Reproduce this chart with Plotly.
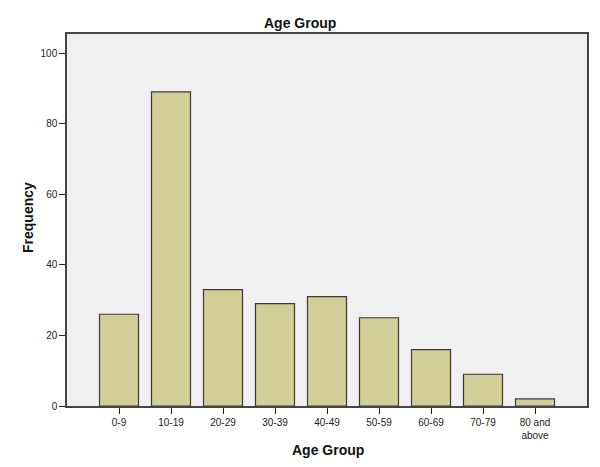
import plotly.graph_objects as go

age_groups = ["0-9", "10-19", "20-29", "30-39", "40-49", "50-59", "60-69", "70-79", "80 and<br>above"]
frequency = [26, 89, 33, 29, 31, 25, 16, 9, 2]
y_ticks = [0, 20, 40, 60, 80, 100]

fig = go.Figure()
fig.add_trace(go.Bar(
    x=age_groups, y=frequency, width=0.75,
    marker=dict(color="#d3ce97", line=dict(color="#3a3a3a", width=1.2)),
))

# page body adds ~8px offset, margins compensate for it
fig.update_layout(
    width=600, height=467,
    margin=dict(l=59, r=21, t=26, b=69, autoexpand=False),
    paper_bgcolor="white", plot_bgcolor="#f0f0f0",
    font=dict(family="Liberation Sans, Arial", color="#222"),
    showlegend=False,
    bargap=0.25,
)
# titles placed by hand, SPSS style
fig.add_annotation(text="<b>Age Group</b>", xref="paper", yref="paper", x=0.448, y=1.0,
                   xanchor="center", yanchor="middle", yshift=11, showarrow=False,
                   font=dict(size=14, color="#111"))
fig.add_annotation(text="<b>Age Group</b>", xref="paper", yref="paper", x=0.502, y=0,
                   xanchor="center", yanchor="middle", yshift=-44, showarrow=False,
                   font=dict(size=14, color="#111"))
fig.add_annotation(text="<b>Frequency</b>", xref="paper", yref="paper", x=0, y=0.5,
                   xanchor="center", yanchor="middle", xshift=-39, yshift=2, textangle=-90,
                   showarrow=False, font=dict(size=14, color="#111"))

fig.update_xaxes(
    range=[-1, 9], ticks="outside", ticklen=6, tickcolor="#222", tickwidth=1.2,
    showline=True, linecolor="#444", linewidth=1.5, mirror=True, automargin=False,
    tickfont=dict(size=10, color="#222"),
)
fig.update_yaxes(
    range=[0, 105.4], tickvals=y_ticks, ticks="outside", ticklen=6, tickcolor="#222", tickwidth=1.2,
    showline=True, linecolor="#444", linewidth=1.5, mirror=True, showgrid=False, zeroline=False,
    automargin=False, tickfont=dict(size=10, color="#222"),
)

fig.write_html("out.html")
